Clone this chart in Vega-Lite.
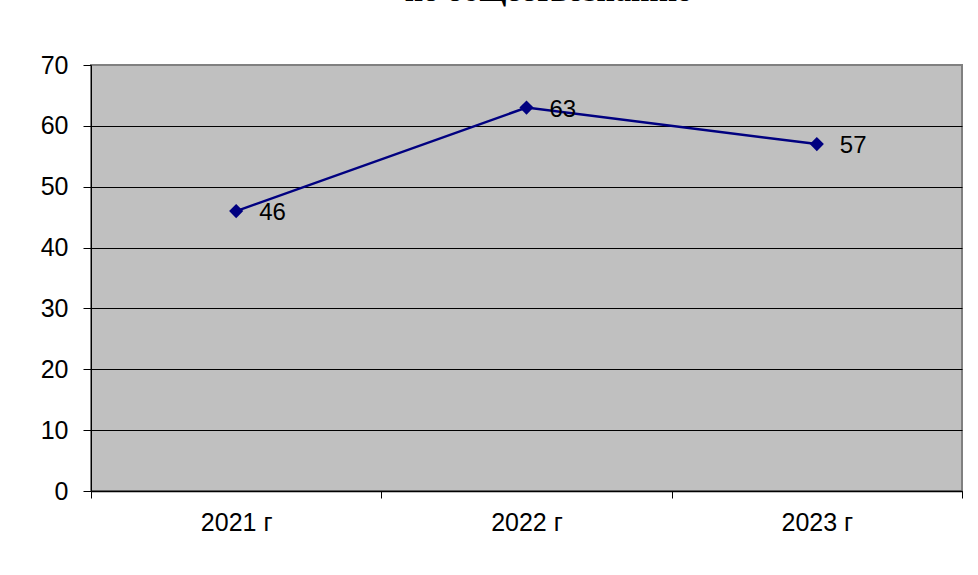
{
  "$schema": "https://vega.github.io/schema/vega-lite/v6.json",
  "width": 871,
  "height": 426,
  "autosize": {"type": "none"},
  "padding": {"left": 91, "top": 65, "right": 16, "bottom": 84},
  "background": "white",
  "title": {
    "text": "по обществознанию",
    "font": "Liberation Serif",
    "fontSize": 32,
    "fontWeight": "bold",
    "color": "black",
    "anchor": "middle",
    "baseline": "alphabetic",
    "offset": 20,
    "dx": 22
  },
  "data": {
    "values": [
      {"year": "2021 г", "value": 46},
      {"year": "2022 г", "value": 63},
      {"year": "2023 г", "value": 57}
    ]
  },
  "encoding": {
    "x": {
      "field": "year",
      "type": "nominal",
      "sort": null,
      "scale": {"paddingInner": 0, "paddingOuter": 0},
      "axis": {
        "title": null,
        "labelAngle": 0,
        "labelFont": "Liberation Sans",
        "labelFontSize": 25,
        "labelColor": "black",
        "labelPadding": 12,
        "tickBand": "extent",
        "tickSize": 7,
        "tickColor": "black",
        "domainColor": "black",
        "domainWidth": 1.5,
        "grid": false
      }
    },
    "y": {
      "field": "value",
      "type": "quantitative",
      "scale": {"domain": [0, 70], "nice": false},
      "axis": {
        "title": null,
        "values": [0, 10, 20, 30, 40, 50, 60, 70],
        "labelFont": "Liberation Sans",
        "labelFontSize": 25,
        "labelColor": "black",
        "labelPadding": 15,
        "tickSize": 8,
        "tickColor": "black",
        "domainColor": "black",
        "grid": true,
        "gridColor": {"condition": {"test": "datum.value === 70", "value": "#808080"}, "value": "black"},
        "gridOpacity": 1,
        "gridWidth": 1
      }
    }
  },
  "layer": [
    {"mark": {"type": "line", "color": "#000080", "strokeWidth": 2.5}},
    {"mark": {"type": "point", "shape": "diamond", "filled": true, "color": "#000080", "size": 200, "opacity": 1}},
    {
      "mark": {"type": "text", "align": "left", "baseline": "middle", "dx": 23, "dy": 2, "font": "Liberation Sans", "fontSize": 24, "color": "black"},
      "encoding": {"text": {"field": "value", "type": "quantitative"}}
    }
  ],
  "config": {
    "view": {"fill": "#c0c0c0", "stroke": "#808080", "strokeWidth": 2}
  }
}
